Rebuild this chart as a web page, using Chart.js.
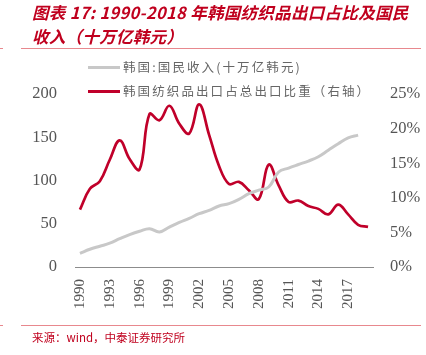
<!DOCTYPE html>
<html><head><meta charset="utf-8">
<script src="https://cdn.jsdelivr.net/npm/chart.js@4/dist/chart.umd.min.js"></script>
<style>
html,body{margin:0;padding:0;background:#fff;width:426px;height:355px;overflow:hidden;}
#wrap{position:relative;width:426px;height:355px;}
canvas{position:absolute;left:0;top:0;}
.title{position:absolute;left:32px;color:#c0001e;font-family:"Noto Sans CJK SC","Liberation Sans",sans-serif;font-weight:bold;font-style:italic;font-size:16.5px;white-space:nowrap;line-height:22px;letter-spacing:0.3px;}
.hr{position:absolute;height:1px;background:#e8888e;}
.src{position:absolute;left:32px;top:329px;color:#c0001e;font-family:"Noto Sans CJK SC",sans-serif;font-size:11.5px;line-height:16px;}
.leg{position:absolute;left:88px;font-family:"Noto Sans CJK SC",sans-serif;font-size:12.5px;color:#666;white-space:nowrap;line-height:16px;letter-spacing:2.1px;}
.leg span.l{display:inline-block;width:32px;height:3px;vertical-align:middle;margin-right:3px;position:relative;top:-1px;}
</style></head>
<body><div id="wrap">
<canvas id="c" width="426" height="355"></canvas>
<div class="title" style="top:1px;">图表 17: 1990-2018 年韩国纺织品出口占比及国民</div>
<div class="title" style="top:25px;">收入（十万亿韩元）</div>
<div class="hr" style="left:0;width:3px;top:48px;"></div>
<div class="hr" style="left:21px;width:400px;top:48px;"></div>
<div class="leg" style="top:59px;"><span class="l" style="background:#c8c8c8"></span>韩国:国民收入(十万亿韩元)</div>
<div class="leg" style="top:83px;"><span class="l" style="background:#c0002a"></span>韩国纺织品出口占总出口比重（右轴）</div>
<div class="hr" style="left:0;width:3px;top:325px;"></div>
<div class="hr" style="left:21px;width:400px;top:325px;"></div>
<div class="src">来源：wind，中泰证券研究所</div>
</div>
<script>
const years = ['1990','1991','1992','1993','1994','1995','1996','1997','1998','1999','2000','2001','2002','2003','2004','2005','2006','2007','2008','2009','2010','2011','2012','2013','2014','2015','2016','2017','2018','2019'];
const nationalIncome = [15.8,20.5,24,27.5,32.7,37.5,41.4,44.3,40.5,46.2,51.6,56.3,61.6,65.5,70.5,73.2,78.2,84.7,88.8,92.5,109.8,114.4,118.5,122.5,127.5,135,142.5,149.3,152.5,null];
const textileShare = [8.3,11.3,12.4,15.5,18.3,15.6,14.1,22.1,21.2,23.3,20.7,19.3,23.5,19.1,14.6,12.0,12.3,11.1,9.8,14.8,11.8,9.4,9.6,8.8,8.4,7.6,9.0,7.6,6.1,5.8];
const leftTicks = [0,50,100,150,200];
const rightTicks = [0,5,10,15,20,25];
const xTickYears = ['1990','1993','1996','1999','2002','2005','2008','2011','2014','2017'];

new Chart(document.getElementById('c'), {
  type: 'line',
  data: {
    labels: years,
    datasets: [
      {label:'韩国:国民收入(十万亿韩元)', data: nationalIncome, yAxisID:'y', borderColor:'#c8c8c8', borderWidth:3, pointRadius:0, tension:0.4, fill:false},
      {label:'韩国纺织品出口占总出口比重（右轴）', data: textileShare, yAxisID:'y1', borderColor:'#c0002a', borderWidth:2.7, pointRadius:0, tension:0.4, fill:false}
    ]
  },
  options: {
    responsive:false, animation:false, maintainAspectRatio:false,
    layout:{padding:{top:94,left:0,right:0,bottom:0}},
    plugins:{legend:{display:false}, tooltip:{enabled:false}},
    scales:{
      x:{
        offset:true,
        grid:{display:false, drawTicks:false},
        border:{display:true,color:'#8c8c8c',width:1},
        ticks:{
          autoSkip:false, maxRotation:90, minRotation:90, padding:12,
          color:'#555', font:{family:'"Liberation Serif", serif', size:15},
          callback:function(v){const l=this.getLabelForValue(v);return xTickYears.includes(l)?l:'';}
        },
        afterFit:s=>{s.height=88;}
      },
      y:{
        position:'left', min:0, max:200,
        afterBuildTicks:s=>{s.ticks=leftTicks.map(v=>({value:v}));},
        grid:{display:false, drawTicks:false},
        border:{display:false},
        ticks:{color:'#555', padding:18, font:{family:'"Liberation Serif", serif', size:16.5}},
        afterFit:s=>{s.width=75;}
      },
      y1:{
        position:'right', min:0, max:25,
        afterBuildTicks:s=>{s.ticks=rightTicks.map(v=>({value:v}));},
        grid:{display:false, drawTicks:false},
        border:{display:false},
        ticks:{color:'#555', padding:17, font:{family:'"Liberation Serif", serif', size:16.5}, callback:v=>v+'%'},
        afterFit:s=>{s.width=53;}
      }
    }
  }
});
</script>
</body></html>
